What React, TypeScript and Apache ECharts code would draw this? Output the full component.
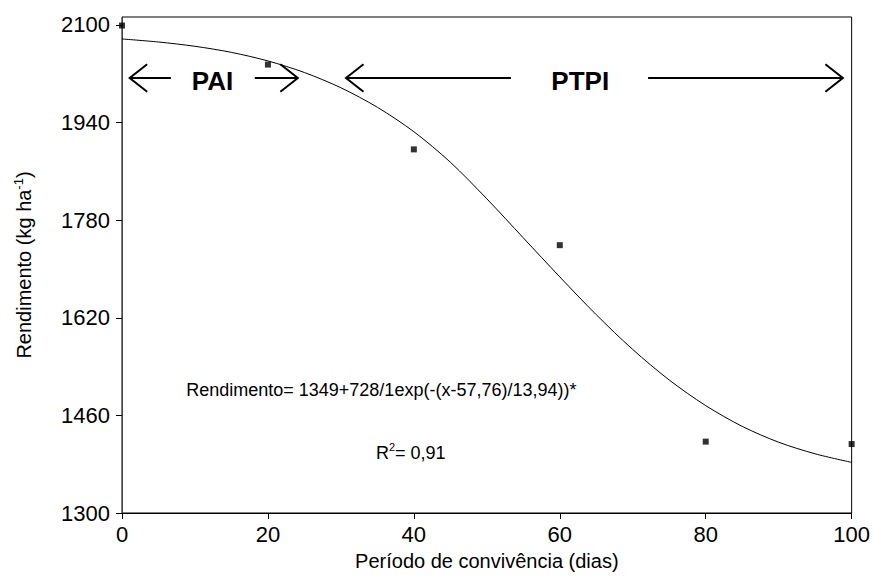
import React, { useEffect, useRef } from "react";
import * as echarts from "echarts";

const FONT = "'Liberation Sans', Arial, Helvetica, sans-serif";

// Observed points (Período de convivência, Rendimento)
const obsX = [0, 20, 40, 60, 80, 100];
const obsY = [2099, 2035, 1896, 1739, 1417, 1413];

// Fitted curve
const curveX = [0, 5, 10, 15, 20, 25, 30, 35, 40, 45, 50, 55, 60, 65, 70, 75, 80, 85, 90, 95, 100];
const curveY = [2077, 2072, 2065, 2055, 2041, 2022, 1997, 1965, 1925, 1875, 1815, 1751, 1687, 1625, 1568, 1518, 1476, 1442, 1416, 1397, 1383];

const yTicks = [1300, 1460, 1620, 1780, 1940, 2100];
const xTicks = [0, 20, 40, 60, 80, 100];

// Annotation arrows (data coords): [tail x, tip x]
const arrowY = 2013;
const arrows: [number, number][] = [
  [6.7, 1.05],
  [18.2, 24.1],
  [53.3, 30.7],
  [72.1, 98.8],
];
const periodLabels = [
  { text: "PAI", x: 12.4, y: 2007.6 },
  { text: "PTPI", x: 62.8, y: 2007.6 },
];
const equationText = "Rendimento= 1349+728/1exp(-(x-57,76)/13,94))*";
const equationPos = [8.8, 1502];
const r2Pos = [34.8, 1398];

export default function App() {
  const ref = useRef<HTMLDivElement>(null);
  useEffect(() => {
    const chart = echarts.init(ref.current!, null, { renderer: "svg" });
    chart.setOption({
      animation: false,
      backgroundColor: "#fff",
      grid: {
        left: 122,
        right: 20.5,
        top: 17,
        bottom: 60,
        show: true,
        borderColor: "#000",
        borderWidth: 1,
        backgroundColor: "transparent",
      },
      xAxis: {
        type: "value",
        min: xTicks[0],
        max: xTicks[xTicks.length - 1],
        interval: 20,
        name: "Período de convivência (dias)",
        nameLocation: "middle",
        nameGap: 38,
        nameTextStyle: { fontFamily: FONT, fontSize: 20, color: "#000" },
        axisLine: { show: true, lineStyle: { color: "#000", width: 1 } },
        axisTick: { show: true, inside: false, length: 6, lineStyle: { color: "#000" } },
        axisLabel: { fontFamily: FONT, fontSize: 22, color: "#000", margin: 10, formatter: (v: number) => String(v) },
        splitLine: { show: false },
      },
      yAxis: {
        type: "value",
        min: 1300,
        max: 2113,
        interval: 160,
        name: "{a|Rendimento (kg ha}{s|-1}{a|)}",
        nameLocation: "middle",
        nameGap: 86,
        nameRotate: 90,
        nameTextStyle: {
          fontFamily: FONT,
          fontSize: 20,
          color: "#000",
          rich: {
            a: { fontFamily: FONT, fontSize: 20, color: "#000", lineHeight: 24 },
            s: { fontFamily: FONT, fontSize: 13, color: "#000", lineHeight: 24, verticalAlign: "top" },
          },
        },
        axisLine: { show: true, lineStyle: { color: "#444", width: 1 } },
        axisTick: { show: true, length: 6, customValues: yTicks, lineStyle: { color: "#000" } },
        axisLabel: {
          fontFamily: FONT,
          fontSize: 22,
          color: "#000",
          margin: 12,
          customValues: yTicks,
          formatter: (v: number) => String(v),
        },
        splitLine: { show: false },
      },
      series: [
        {
          type: "line",
          data: curveX.map((x, i) => [x, curveY[i]]),
          smooth: 0.3,
          showSymbol: false,
          lineStyle: { color: "#000", width: 1 },
          z: 2,
        },
        {
          type: "scatter",
          data: obsX.map((x, i) => [x, obsY[i]]),
          symbol: "rect",
          symbolSize: 6,
          itemStyle: { color: "#000" },
          z: 3,
        },
      ],
    });

    const px = (x: number, y: number) => chart.convertToPixel({ seriesIndex: 0 }, [x, y]) as number[];
    const graphic: any[] = [];
    arrows.forEach(([tail, tip]) => {
      const a = px(tail, arrowY);
      const b = px(tip, arrowY);
      const dir = b[0] > a[0] ? 1 : -1;
      graphic.push({
        type: "polyline",
        shape: { points: [a, b] },
        style: { stroke: "#000", lineWidth: 2, fill: null },
      });
      graphic.push({
        type: "polyline",
        shape: {
          points: [
            [b[0] - dir * 17.5, b[1] - 13.8],
            b,
            [b[0] - dir * 17.5, b[1] + 13.8],
          ],
        },
        style: { stroke: "#000", lineWidth: 2, fill: null },
      });
    });
    periodLabels.forEach((l) => {
      const p = px(l.x, l.y);
      graphic.push({
        type: "text",
        x: p[0],
        y: p[1],
        style: {
          text: l.text,
          font: `bold 26px ${FONT}`,
          fill: "#000",
          align: "center",
          verticalAlign: "middle",
        },
      });
    });
    const e = px(equationPos[0], equationPos[1]);
    graphic.push({
      type: "text",
      x: e[0],
      y: e[1],
      style: {
        text: equationText,
        font: `18px ${FONT}`,
        fill: "#000",
        align: "left",
        verticalAlign: "middle",
      },
    });
    const r = px(r2Pos[0], r2Pos[1]);
    graphic.push({
      type: "text",
      x: r[0],
      y: r[1],
      style: {
        text: "{a|R}{s|2}{a|= 0,91}",
        align: "left",
        verticalAlign: "middle",
        rich: {
          a: { fontFamily: FONT, fontSize: 18, fill: "#000", lineHeight: 24 },
          s: { fontFamily: FONT, fontSize: 11, fill: "#000", lineHeight: 24, verticalAlign: "top" },
        },
      },
    });
    chart.setOption({ graphic });

    return () => chart.dispose();
  }, []);
  return (
    <div
      ref={ref}
      style={{ position: "fixed", left: 0, top: 0, width: 873, height: 576, background: "#fff" }}
    />
  );
}
